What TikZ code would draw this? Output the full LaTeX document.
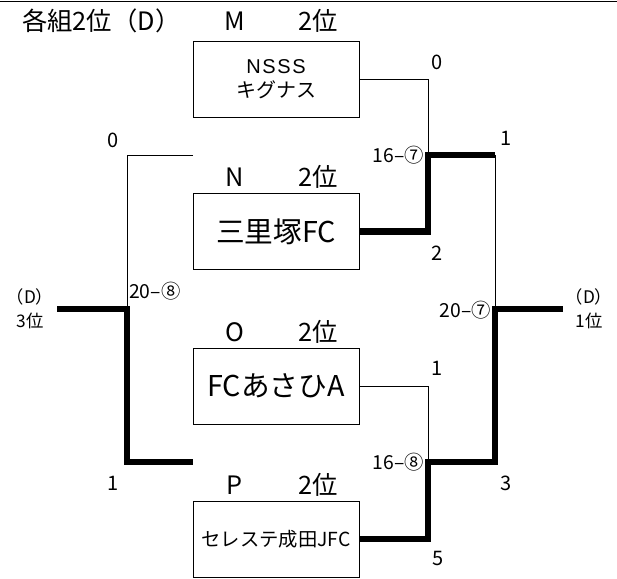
\documentclass[tikz,border=0pt]{standalone}
\usepackage{fontspec}
\setmainfont{Noto Sans CJK JP}
\newfontfamily\latinwide[LetterSpace=8]{Liberation Sans}
\begin{document}
\begin{tikzpicture}[x=0.75pt,y=-0.75pt,
  team/.style={draw,line width=0.75pt,minimum width=124.5pt,minimum height=57pt,inner sep=0pt,align=center},
  thinln/.style={line width=0.75pt},
  thickln/.style={line width=5.2pt,line join=miter},
  grp/.style={font=\fontsize{19}{21}\selectfont,inner sep=0pt},
  score/.style={font=\fontsize{15}{17}\selectfont,inner sep=0pt},
  res/.style={font=\fontsize{14.5}{16}\selectfont,inner sep=0pt},
  rank/.style={font=\fontsize{13}{18}\selectfont,inner sep=0pt,align=center}]
\useasboundingbox (0,0) rectangle (617,578);
\draw[thinln] (0,1) -- (617,1);
% title
\node[grp,anchor=west] (title) at (22,21) {各組2位（D）};
% group labels
\node[grp] (Ml) at (235,21) {M};  \node[grp] (Mr) at (318,21) {2位};
\node[grp] (Nl) at (235,177) {N}; \node[grp] (Nr) at (318,177) {2位};
\node[grp] (Ol) at (235,332) {O}; \node[grp] (Or) at (318,332) {2位};
\node[grp] (Pl) at (235,485) {P}; \node[grp] (Pr) at (318,485) {2位};
% teams
\node[team,font=\fontsize{15}{18}\selectfont] (M) at (276,79) {{\latinwide NSSS}\\キグナス};
\node[team,font=\fontsize{21.5}{24}\selectfont] (N) at (276,231.5) {三里塚FC};
\node[team,font=\fontsize{21.5}{24}\selectfont] (O) at (276,386) {FCあさひA};
\node[team,font=\fontsize{14.5}{17}\selectfont] (P) at (276,539) {セレステ成田JFC};
% junctions
\coordinate (a1) at (428,155);
\coordinate (s1) at (495,155);
\coordinate (a2) at (428,462);
\coordinate (f) at (495,309);
\coordinate (winR) at (563,309);
\coordinate (l) at (127,309);
\coordinate (winL) at (57,309);
\coordinate (Nin) at (193,155);
\coordinate (Pin) at (193,462);
% right side
\draw[thinln] (M.east) -| (a1);
\draw[thickln] (N.east) -| (a1) -- (s1);
\draw[thinln] (s1) -- (f);
\draw[thinln] (O.east) -| (a2);
\draw[thickln] (P.east) -| (a2) -| (f) -- (winR);
% left side
\draw[thinln] (Nin) -| (l);
\draw[thickln] (winL) -- (l) |- (Pin);
% scores
\node[score] (sc1) at (437,62) {0};
\node[score] (sc2) at (437,253) {2};
\node[score] (sc3) at (506,138) {1};
\node[score] (sc4) at (437,368) {1};
\node[score] (sc5) at (438,558) {5};
\node[score] (sc6) at (506,483) {3};
\node[score] (sc7) at (113,140) {0};
\node[score] (sc8) at (113,483) {1};
% results
\node[res,anchor=east] (r1) at (424,155) {16–⑦};
\node[res,anchor=east] (r2) at (424,462) {16–⑧};
\node[res,anchor=east] (r3) at (491,310) {20–⑦};
\node[res,anchor=west] (r4) at (129,291) {20–⑧};
% ranks
\node[rank] (rk1) at (30,309) {（D）\\3位};
\node[rank] (rk2) at (589,309) {（D）\\1位};
\end{tikzpicture}
\end{document}
